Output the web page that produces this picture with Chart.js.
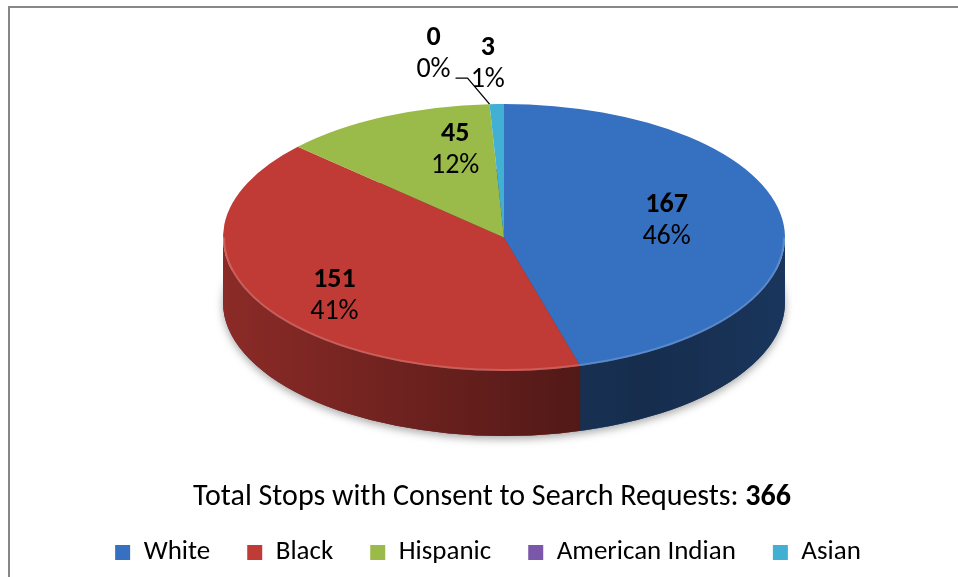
<!DOCTYPE html>
<html>
<head>
<meta charset="utf-8">
<script src="https://cdn.jsdelivr.net/npm/chart.js@4.4.1/dist/chart.umd.min.js"></script>
<style>
  html, body { margin: 0; padding: 0; background: #fff; }
  #wrap { width: 958px; height: 577px; position: relative; }
</style>
</head>
<body>
<div id="wrap"><canvas id="stops"></canvas></div>
<script>
// stops with consent-to-search requests, by race
const categories = ['White', 'Black', 'Hispanic', 'American Indian', 'Asian'];
const stopCounts = [167, 151, 45, 0, 3];
const sliceColors = ['#3670c0', '#c13b36', '#9abb49', '#7a57a8', '#41b0d2'];
const titleText = 'Total Stops with Consent to Search Requests: ';

const FONT = 'Carlito, Calibri, Lato, sans-serif';
const total = stopCounts.reduce((a, b) => a + b, 0);

// flattened pie: top face ellipse + wall depth
const PIE = { cx: 504, cy: 237.5, rx: 281, ry: 133.5, depth: 65 };
const LABEL_R = 0.62;
// small tweaks so labels sit like the office-style layout
const labelNudge = { 'White': [-10, -5], 'Black': [-21, 15], 'Hispanic': [25, -13] };
// labels for thin slices go outside the pie
const outsideOffset = { 'American Indian': [-56, -50], 'Asian': [-9, -40] };

function onEllipse(a, f) {
  return [PIE.cx + PIE.rx * f * Math.cos(a), PIE.cy + PIE.ry * f * Math.sin(a)];
}

function wallPath(ctx, s, e) {
  const { cx, cy, rx, ry, depth } = PIE;
  ctx.beginPath();
  ctx.ellipse(cx, cy, rx, ry, 0, s, e);
  ctx.ellipse(cx, cy + depth, rx, ry, 0, e, s, true);
  ctx.closePath();
}

const pie3d = {
  id: 'pie3d',
  beforeDatasetsDraw(chart) {
    const ctx = chart.ctx;
    const arcs = chart.getDatasetMeta(0).data;
    const { cx, cy, rx, ry, depth } = PIE;

    // soft shadow under the pie
    ctx.save();
    ctx.shadowColor = 'rgba(0,0,0,0.35)';
    ctx.shadowBlur = 8;
    ctx.shadowOffsetY = 3;
    ctx.beginPath();
    ctx.ellipse(cx, cy + depth, rx, ry, 0, 0, Math.PI * 2);
    ctx.fillStyle = '#444';
    ctx.fill();
    ctx.restore();

    // front wall, one piece per slice
    arcs.forEach((arc, i) => {
      const s = Math.max(arc.startAngle, 0);
      const e = Math.min(arc.endAngle, Math.PI);
      if (e <= s) return;
      wallPath(ctx, s, e);
      ctx.fillStyle = sliceColors[i];
      ctx.fill();
    });
    const shade = ctx.createLinearGradient(cx - rx, 0, cx + rx, 0);
    shade.addColorStop(0, 'rgba(0,0,0,0.28)');
    shade.addColorStop(0.6, 'rgba(0,0,0,0.56)');
    shade.addColorStop(0.75, 'rgba(0,0,0,0.6)');
    shade.addColorStop(1, 'rgba(0,0,0,0.52)');
    wallPath(ctx, 0, Math.PI);
    ctx.fillStyle = shade;
    ctx.fill();

    // squash the library's round arcs into the top ellipse
    const a0 = arcs[0];
    const r = a0.outerRadius;
    ctx.save();
    ctx.translate(cx, cy);
    ctx.scale(rx / r, ry / r);
    ctx.translate(-a0.x, -a0.y);
  },
  afterDatasetsDraw(chart) {
    const ctx = chart.ctx;
    ctx.restore();
    const arcs = chart.getDatasetMeta(0).data;
    const { cx, cy, rx, ry } = PIE;

    // light rim along the front edge
    ctx.save();
    ctx.beginPath();
    ctx.ellipse(cx, cy, rx - 1, ry - 1, 0, 0, Math.PI);
    ctx.strokeStyle = 'rgba(255,255,255,0.18)';
    ctx.lineWidth = 2;
    ctx.stroke();
    ctx.restore();

    // data labels: count (bold) over percentage
    ctx.save();
    ctx.textAlign = 'center';
    ctx.textBaseline = 'middle';
    ctx.fillStyle = '#000';
    arcs.forEach((arc, i) => {
      const name = categories[i];
      const mid = (arc.startAngle + arc.endAngle) / 2;
      const pct = Math.round(stopCounts[i] / total * 100) + '%';
      let x, y;
      if (outsideOffset[name]) {
        const [ax, ay] = onEllipse(mid, 1);
        const [ox, oy] = outsideOffset[name];
        x = ax + ox; y = ay + oy;
        if (Math.hypot(ox, oy) > 50) {
          ctx.beginPath();
          ctx.moveTo(ax, ay);
          ctx.lineTo(x + 34, y + 24);
          ctx.lineTo(x + 22, y + 24);
          ctx.strokeStyle = '#000';
          ctx.lineWidth = 1.3;
          ctx.stroke();
        }
      } else {
        [x, y] = onEllipse(mid, LABEL_R);
        const n = labelNudge[name] || [0, 0];
        x += n[0]; y += n[1];
      }
      ctx.font = 'bold 28px ' + FONT;
      ctx.fillText(String(stopCounts[i]), x, y - 16);
      ctx.font = '28px ' + FONT;
      ctx.fillText(pct, x, y + 16);
    });
    ctx.restore();

    // caption under the pie, total in bold
    ctx.save();
    ctx.textBaseline = 'alphabetic';
    ctx.fillStyle = '#000';
    ctx.font = '30px ' + FONT;
    const w1 = ctx.measureText(titleText).width;
    ctx.font = 'bold 30px ' + FONT;
    const w2 = ctx.measureText(String(total)).width;
    const tx = 492 - (w1 + w2) / 2;
    ctx.font = '30px ' + FONT;
    ctx.fillText(titleText, tx, 505);
    ctx.font = 'bold 30px ' + FONT;
    ctx.fillText(String(total), tx + w1, 505);
    ctx.restore();

    // chart frame (left and top edges)
    ctx.save();
    ctx.strokeStyle = '#878787';
    ctx.lineWidth = 2;
    ctx.beginPath();
    ctx.moveTo(9, 577);
    ctx.lineTo(9, 7);
    ctx.lineTo(958, 7);
    ctx.stroke();
    ctx.restore();
  }
};

new Chart(document.getElementById('stops'), {
  type: 'pie',
  data: {
    labels: categories,
    datasets: [{
      data: stopCounts,
      backgroundColor: sliceColors,
      borderWidth: 0,
      clip: false
    }]
  },
  options: {
    responsive: true,
    maintainAspectRatio: false,
    animation: false,
    layout: { padding: { left: 18, right: 0, top: 20, bottom: 1 } },
    plugins: {
      tooltip: { enabled: false },
      legend: {
        position: 'bottom',
        labels: {
          boxWidth: 15,
          boxHeight: 15,
          padding: 37,
          color: '#000',
          font: { family: FONT, size: 27 }
        }
      }
    }
  },
  plugins: [pie3d]
});
</script>
</body>
</html>
